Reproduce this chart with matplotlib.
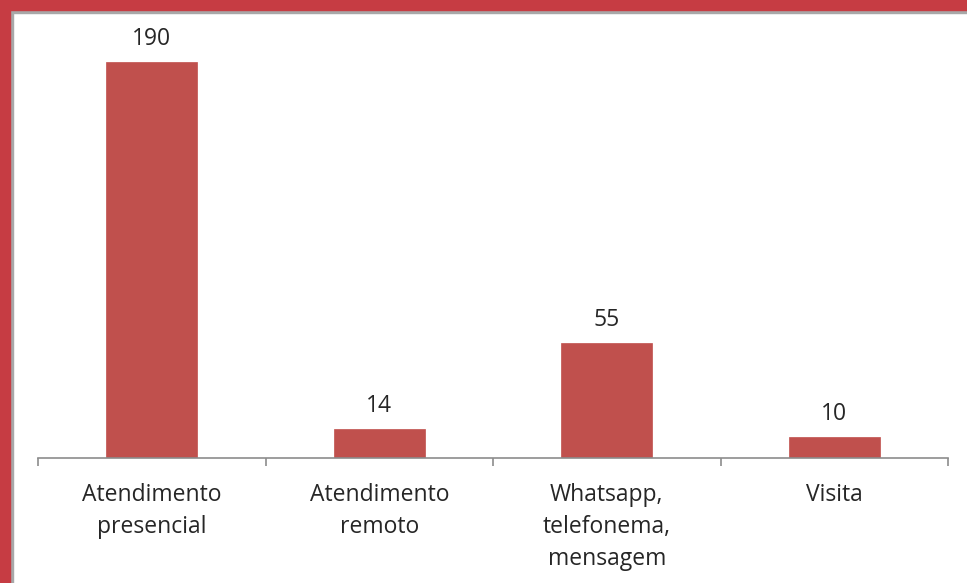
import matplotlib.pyplot as plt
from matplotlib.patches import Rectangle

categories = ["Atendimento\npresencial", "Atendimento\nremoto",
              "Whatsapp,\ntelefonema,\nmensagem", "Visita"]
values = [190, 14, 55, 10]

plt.rcParams['font.family'] = ['Open Sans', 'DejaVu Sans']

fig = plt.figure(figsize=(9.67, 5.83), dpi=100)
ax = fig.add_axes([38 / 967, 125 / 583, 910 / 967, 438 / 583])

x = range(len(values))
bars = ax.bar(x, values, width=0.4, color='#C0504D', edgecolor='#C0504D', linewidth=0.5)
ax.set_xlim(-0.5, len(values) - 0.5)
ax.set_ylim(0, 210)

for b, v in zip(bars, values):
    ax.annotate(str(v), (b.get_x() + b.get_width() / 2, v), xytext=(0, 8),
                textcoords='offset points', ha='center', va='bottom',
                fontsize=16.5, color='#262626')

for s in ['top', 'right', 'left']:
    ax.spines[s].set_visible(False)
ax.spines['bottom'].set_color('#8c8c8c')
ax.spines['bottom'].set_linewidth(1.2)
ax.set_yticks([])

ax.set_xticks([-0.5, 0.5, 1.5, 2.5, 3.5])
ax.set_xticklabels([])
ax.tick_params(axis='x', length=6, width=1.2, color='#8c8c8c', direction='out')
ax.set_xticks(list(x), minor=True)
ax.set_xticklabels(categories, minor=True, fontsize=16.5, color='#262626', linespacing=1.45)
ax.tick_params(axis='x', which='minor', length=0, pad=18)

# frame border on left and top
red = '#C63C43'
fig.patches.append(Rectangle((0, 0), 10 / 967, 1, transform=fig.transFigure,
                             color=red, zorder=10))
fig.patches.append(Rectangle((0, 1 - 10 / 583), 1, 10 / 583, transform=fig.transFigure,
                             color=red, zorder=10))
fig.patches.append(Rectangle((10 / 967, 0), 3 / 967, 1 - 10 / 583, transform=fig.transFigure,
                             color='#a8a8a8', zorder=9))
fig.patches.append(Rectangle((10 / 967, 1 - 13 / 583), 1, 3 / 583, transform=fig.transFigure,
                             color='#a8a8a8', zorder=9))

fig.savefig('out.png', dpi=100)
